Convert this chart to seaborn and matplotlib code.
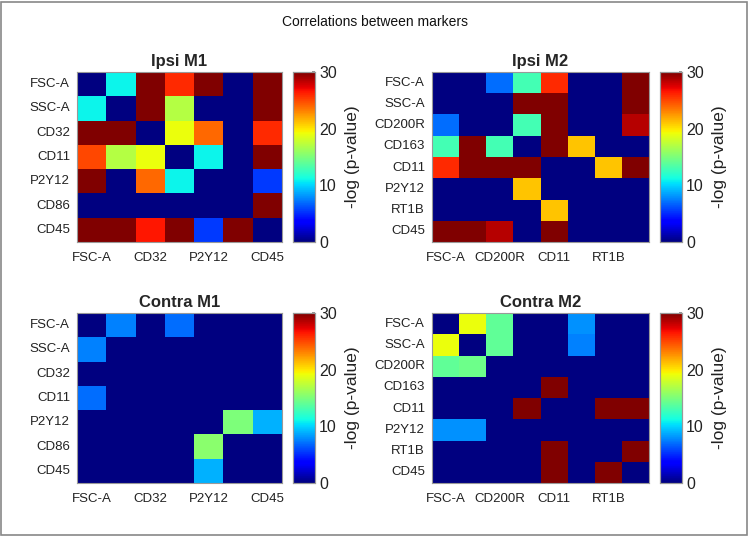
import numpy as np
import pandas as pd
import matplotlib
matplotlib.use("Agg")
import matplotlib.pyplot as plt
from matplotlib.patches import Rectangle
import seaborn as sns

sns.set_theme(style="white")
plt.rcParams['font.family'] = ['Liberation Sans', 'DejaVu Sans']

markers_m1 = ["FSC-A", "SSC-A", "CD32", "CD11", "P2Y12", "CD86", "CD45"]
markers_m2 = ["FSC-A", "SSC-A", "CD200R", "CD163", "CD11", "P2Y12", "RT1B", "CD45"]

ipsi_m1 = [
    [0, 11, 30, 26, 30, 0, 30],
    [11, 0, 30, 17, 0, 0, 30],
    [30, 30, 0, 19, 24, 0, 26],
    [25, 17, 19, 0, 11, 0, 30],
    [30, 0, 24, 11, 0, 0, 5.5],
    [0, 0, 0, 0, 0, 0, 30],
    [30, 30, 26.5, 30, 5.5, 30, 0],
]
ipsi_m2 = [
    [0, 0, 7, 13, 26, 0, 0, 30],
    [0, 0, 0, 30, 30, 0, 0, 30],
    [7, 0, 0, 13, 30, 0, 0, 28.5],
    [13, 30, 13, 0, 30, 21, 0, 0],
    [26, 30, 30, 30, 0, 0, 21, 30],
    [0, 0, 0, 21, 0, 0, 0, 0],
    [0, 0, 0, 0, 21, 0, 0, 0],
    [30, 30, 28.5, 0, 30, 0, 0, 0],
]
contra_m1 = [
    [0, 7.5, 0, 7, 0, 0, 0],
    [7.5, 0, 0, 0, 0, 0, 0],
    [0, 0, 0, 0, 0, 0, 0],
    [7, 0, 0, 0, 0, 0, 0],
    [0, 0, 0, 0, 0, 15, 9],
    [0, 0, 0, 0, 15.5, 0, 0],
    [0, 0, 0, 0, 9, 0, 0],
]
contra_m2 = [
    [0, 19, 14, 0, 0, 8, 0, 0],
    [19, 0, 14, 0, 0, 7.5, 0, 0],
    [14, 14.5, 0, 0, 0, 0, 0, 0],
    [0, 0, 0, 0, 30, 0, 0, 0],
    [0, 0, 0, 30, 0, 0, 30, 30],
    [8, 8, 0, 0, 0, 0, 0, 0],
    [0, 0, 0, 0, 30, 0, 0, 30],
    [0, 0, 0, 0, 30, 0, 30, 0],
]

titles = ["Ipsi M1", "Ipsi M2", "Contra M1", "Contra M2"]
suptitle = "Correlations between markers"
cbar_label = "-log (p-value)"
cbar_ticks = [0, 10, 20, 30]

W, H = 749, 536
fig = plt.figure(figsize=(W / 100, H / 100), dpi=100)

def ax_px(x0, y0, x1, y1):
    return fig.add_axes([x0 / W, 1 - y1 / H, (x1 - x0) / W, (y1 - y0) / H])

panels = [
    (ipsi_m1, markers_m1, (77, 72, 282, 242), (293, 72, 315, 242)),
    (ipsi_m2, markers_m2, (432, 72, 649, 242), (660, 72, 682, 242)),
    (contra_m1, markers_m1, (77, 313, 282, 483), (293, 313, 315, 483)),
    (contra_m2, markers_m2, (432, 313, 649, 483), (660, 313, 682, 483)),
]

for (vals, labels, apos, cpos), title in zip(panels, titles):
    ax = ax_px(*apos)
    cax = ax_px(*cpos)
    df = pd.DataFrame(vals, index=labels, columns=labels)
    sns.heatmap(df, ax=ax, cbar_ax=cax, cmap="jet", vmin=0, vmax=30,
                cbar_kws={"ticks": cbar_ticks})
    n = len(labels)
    ax.set_xticks(np.arange(0, n, 2) + 0.5)
    ax.set_xticklabels(labels[::2], rotation=0, fontsize=9.5)
    ax.set_yticks(np.arange(n) + 0.5)
    ax.set_yticklabels(labels, rotation=0, fontsize=9.5)
    ax.tick_params(axis="x", length=0, pad=7)
    ax.tick_params(axis="y", length=3, direction="out", pad=2,
                   width=0.6, colors="#888888")
    for t in ax.get_yticklabels() + ax.get_xticklabels():
        t.set_color("#222222")
    ax.set_xlabel("")
    ax.set_ylabel("")
    for s in ax.spines.values():
        s.set_visible(True)
        s.set_color("#999999")
        s.set_linewidth(0.8)
    ax.set_title(title, fontsize=12, fontweight="bold", pad=4)
    cax.tick_params(labelsize=11.5, length=2, direction="in", colors="#888888", pad=3)
    for t in cax.get_yticklabels():
        t.set_color("#222222")
    cax.set_ylabel(cbar_label, fontsize=12.5, labelpad=6, color="#222222")
    for s in cax.spines.values():
        s.set_visible(True)
        s.set_color("#999999")
        s.set_linewidth(0.8)

fig.text(0.5, 1 - 22 / H, suptitle, ha="center", va="center", fontsize=10,
         color="#111111")

fig.patches.append(Rectangle((1 / W, 1 / H), 1 - 3 / W, 1 - 3 / H,
                             transform=fig.transFigure, fill=False,
                             edgecolor="#888888", linewidth=1.2))

fig.savefig("out.png", dpi=100)
